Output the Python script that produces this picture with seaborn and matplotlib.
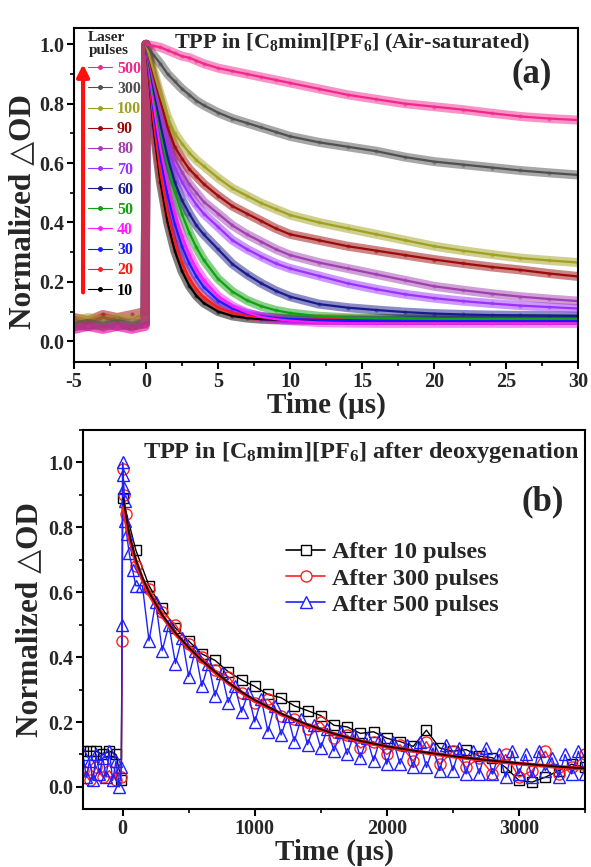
import numpy as np
import pandas as pd
import matplotlib
matplotlib.use('Agg')
import matplotlib.pyplot as plt
import seaborn as sns
from matplotlib.lines import Line2D
from matplotlib.ticker import MultipleLocator

sns.set_theme(style='ticks')
plt.rcParams['font.family'] = ['Liberation Serif', 'DejaVu Sans']
plt.rcParams['font.weight'] = 'bold'
plt.rcParams['axes.labelweight'] = 'bold'
plt.rcParams['axes.unicode_minus'] = False
plt.rcParams['mathtext.fontset'] = 'custom'
plt.rcParams['mathtext.rm'] = 'Liberation Serif:bold'
plt.rcParams['mathtext.it'] = 'Liberation Serif:bold:italic'
plt.rcParams['mathtext.bf'] = 'Liberation Serif:bold'
plt.rcParams['mathtext.default'] = 'rm'

# ---------------- Panel (a) data ----------------
pulses_a = ['10', '20', '30', '40', '50', '60', '70', '80', '90', '100', '300', '500']
colors_a = ['#000000', '#FF1A1A', '#1A1AFF', '#FF1AFF', '#12A012', '#1A1A8C',
            '#9B30FF', '#A040B0', '#9C0A0A', '#A0A020', '#505050', '#F0288C']
t_pre = [-5, -4, -3, -2, -1, -0.05]
t_decay = [0, 0.5, 1, 1.5, 2, 2.5, 3, 3.5, 4, 5, 6, 7, 8, 9, 10, 12, 14, 16, 18, 20, 22, 24, 26, 28, 30]

base_10 = [0.06, 0.05, 0.07, 0.05, 0.06, 0.06]
base_20 = [0.07, 0.06, 0.08, 0.07, 0.06, 0.08]
base_30 = [0.05, 0.06, 0.05, 0.07, 0.05, 0.06]
base_40 = [0.04, 0.05, 0.04, 0.05, 0.04, 0.05]
base_50 = [0.05, 0.06, 0.05, 0.06, 0.05, 0.06]
base_60 = [0.06, 0.05, 0.07, 0.06, 0.05, 0.07]
base_70 = [0.05, 0.06, 0.06, 0.05, 0.06, 0.06]
base_80 = [0.05, 0.05, 0.06, 0.05, 0.06, 0.06]
base_90 = [0.08, 0.07, 0.09, 0.08, 0.09, 0.10]
base_100 = [0.07, 0.08, 0.07, 0.08, 0.07, 0.08]
base_300 = [0.05, 0.06, 0.05, 0.06, 0.05, 0.06]
base_500 = [0.04, 0.05, 0.04, 0.05, 0.04, 0.05]

decay_10 = [1.0, .73, .537, .40, .304, .236, .187, .153, .129, .10, .085, .078, .074, .072, .071, .07, .07, .07, .07, .07, .07, .07, .07, .07, .07]
decay_20 = [1.0, .749, .566, .433, .336, .265, .214, .176, .149, .114, .096, .086, .081, .078, .077, .076, .075, .075, .075, .075, .075, .075, .075, .075, .075]
decay_30 = [1.0, .785, .62, .492, .395, .319, .262, .218, .183, .137, .11, .093, .084, .078, .075, .072, .071, .07, .07, .07, .07, .07, .07, .07, .07]
decay_40 = [1.0, .805, .65, .528, .43, .354, .293, .244, .207, .152, .118, .096, .082, .074, .069, .063, .061, .06, .06, .06, .06, .06, .06, .06, .06]
decay_50 = [1.0, .838, .705, .595, .503, .428, .366, .316, .274, .21, .167, .138, .118, .104, .095, .084, .079, .077, .076, .075, .075, .075, .075, .075, .075]
decay_60 = [1.0, .855, .73, .62, .535, .475, .43, .39, .36, .31, .26, .225, .195, .17, .15, .125, .113, .105, .098, .093, .09, .088, .087, .086, .085]
decay_70 = [1.0, .875, .765, .67, .585, .535, .495, .46, .43, .385, .34, .31, .285, .262, .245, .22, .195, .175, .158, .145, .135, .127, .12, .115, .11]
decay_80 = [1.0, .885, .78, .69, .615, .57, .53, .5, .47, .43, .39, .36, .335, .31, .29, .265, .245, .225, .205, .185, .172, .16, .15, .142, .135]
decay_90 = [1.0, .9, .81, .72, .655, .615, .58, .555, .53, .49, .455, .43, .405, .38, .36, .34, .32, .305, .29, .275, .262, .25, .24, .228, .218]
decay_100 = [1.0, .915, .83, .755, .70, .665, .635, .61, .59, .55, .515, .49, .465, .445, .425, .40, .38, .36, .34, .32, .305, .292, .28, .272, .265]
decay_300 = [1.0, .965, .935, .90, .875, .85, .83, .81, .795, .77, .75, .735, .72, .705, .69, .67, .655, .64, .62, .605, .595, .585, .575, .567, .56]
decay_500 = [1.0, .995, .99, .98, .97, .96, .955, .945, .935, .92, .91, .90, .89, .88, .87, .85, .83, .815, .80, .79, .78, .768, .757, .75, .745]

bases = [base_10, base_20, base_30, base_40, base_50, base_60, base_70, base_80, base_90, base_100, base_300, base_500]
decays = [decay_10, decay_20, decay_30, decay_40, decay_50, decay_60, decay_70, decay_80, decay_90, decay_100, decay_300, decay_500]

# ---------------- Panel (b) data ----------------
labels_b = ['After 10 pulses', 'After 300 pulses', 'After 500 pulses']
colors_b = ['#000000', '#FF2020', '#2020FF']

t_black = [-300, -250, -200, -150, -100, -50, -10, 0] + list(range(100, 3501, 100))
v_black = [0.11, 0.11, 0.11, 0.10, 0.11, 0.10, 0.02,
           0.89, 0.73, 0.62, 0.55, 0.49, 0.45, 0.41, 0.39, 0.355, 0.33, 0.31,
           0.285, 0.275, 0.25, 0.235, 0.22, 0.19, 0.185, 0.165, 0.17, 0.15,
           0.14, 0.125, 0.175, 0.12, 0.11, 0.115, 0.095, 0.09, 0.06, 0.02,
           0.015, 0.03, 0.05, 0.07, 0.06]

t_red = [-300, -250, -200, -150, -100, -50, -10, -3, 0, 10, 25] + list(range(100, 3501, 100))
v_red = [0.05, 0.02, 0.06, 0.03, 0.05, 0.02, 0.03, 0.45,
         0.98, 0.90, 0.84,
         0.68, 0.61, 0.54, 0.50, 0.44, 0.40, 0.36, 0.34, 0.29, 0.26,
         0.27, 0.22, 0.21, 0.18, 0.20, 0.15, 0.16, 0.12, 0.14, 0.10,
         0.13, 0.08, 0.14, 0.07, 0.11, 0.06, 0.09, 0.04, 0.10, 0.03,
         0.05, 0.11, 0.04, 0.06, 0.10]

t_blue = ([-300, -275, -250, -225, -200, -175, -150, -125, -100, -75, -50, -25, -10, -3,
           0, 5, 10, 15, 20, 30, 50, 75, 100] + list(range(150, 3501, 50)))
v_blue = [0.10, 0.03, 0.08, 0.02, 0.10, 0.04, 0.09, 0.03, 0.11, 0.02, 0.08, 0.00, 0.06, 0.50,
          1.00, 0.96, 0.92, 0.88, 0.82, 0.78, 0.72, 0.67, 0.62,
          0.62, 0.45, 0.57, 0.42, 0.50, 0.38, 0.46, 0.34, 0.42, 0.31,
          0.38, 0.28, 0.35, 0.26, 0.31, 0.23, 0.29, 0.20, 0.27, 0.17,
          0.25, 0.16, 0.22, 0.14, 0.21, 0.13, 0.19, 0.12, 0.18, 0.11,
          0.17, 0.10, 0.16, 0.09, 0.15, 0.08, 0.15, 0.07, 0.14, 0.07,
          0.13, 0.06, 0.14, 0.06, 0.12, 0.05, 0.13, 0.05, 0.12, 0.04,
          0.11, 0.04, 0.12, 0.04, 0.10, 0.03, 0.11, 0.04, 0.10, 0.03,
          0.11, 0.05, 0.09, 0.03, 0.10, 0.04, 0.11, 0.04]

t_fit_b = [5, 50, 100, 150, 200, 300, 400, 500, 600, 700, 800, 900, 1000, 1200, 1400,
           1600, 1800, 2000, 2250, 2500, 2750, 3000, 3250, 3500]
fit_black = [0.89, 0.78, 0.70, 0.645, 0.60, 0.53, 0.475, 0.43, 0.39, 0.355, 0.322, 0.293,
             0.268, 0.226, 0.192, 0.164, 0.142, 0.125, 0.109, 0.095, 0.083, 0.073, 0.064, 0.057]
fit_red = [0.86, 0.77, 0.695, 0.64, 0.595, 0.527, 0.472, 0.428, 0.388, 0.353, 0.32, 0.291,
           0.266, 0.224, 0.19, 0.163, 0.141, 0.124, 0.108, 0.094, 0.082, 0.072, 0.063, 0.056]

# ---------------- build tables ----------------
rows_data, rows_fit = [], []
for lab, b, d in zip(pulses_a, bases, decays):
    for t, v in zip(t_pre, b):
        rows_data.append((lab, t, v))
    for t, v in zip(t_decay, d):
        rows_data.append((lab, t, v))
        rows_fit.append((lab, t, v))
df_a = pd.DataFrame(rows_data, columns=['pulses', 't', 'v'])
df_af = pd.DataFrame(rows_fit, columns=['pulses', 't', 'v'])
pal_a = dict(zip(pulses_a, colors_a))

df_b = {lab: pd.DataFrame({'t': t, 'v': v}) for lab, t, v in
        zip(labels_b, [t_black, t_red, t_blue], [v_black, v_red, v_blue])}
df_bf_black = pd.DataFrame({'t': t_fit_b, 'v': fit_black})
df_bf_red = pd.DataFrame({'t': t_fit_b, 'v': fit_red})

# ---------------- figure ----------------
fig = plt.figure(figsize=(5.91, 8.67), dpi=100)
ax1 = fig.add_axes([0.1252, 0.5825, 0.8528, 0.3852])
ax2 = fig.add_axes([0.1404, 0.0669, 0.8494, 0.4371])

TICK_FS = 14.5
LABEL_FS = 21
YLABEL_FS = 22.5

# Panel (a)
sns.lineplot(data=df_a, x='t', y='v', hue='pulses', palette=pal_a, hue_order=pulses_a,
             estimator=None, sort=False, legend=False, lw=6.5, alpha=0.5,
             marker='o', markersize=3, markeredgewidth=0, ax=ax1)
sns.lineplot(data=df_af, x='t', y='v', hue='pulses', palette=pal_a, hue_order=pulses_a,
             estimator=None, sort=False, legend=False, lw=1.6, ax=ax1)
ax1.set_xlim(-5, 30)
ax1.set_ylim(-0.07, 1.055)
ax1.xaxis.set_major_locator(MultipleLocator(5))
ax1.xaxis.set_minor_locator(MultipleLocator(2.5))
ax1.yaxis.set_major_locator(MultipleLocator(0.2))
ax1.yaxis.set_minor_locator(MultipleLocator(0.1))
ax1.yaxis.set_major_formatter(matplotlib.ticker.FormatStrFormatter('%.1f'))
ax1.set_xlabel('Time (µs)', fontsize=LABEL_FS, fontweight='bold', labelpad=0)
ax1.set_ylabel('Normalized △OD', fontsize=YLABEL_FS, fontweight='bold')
ax1.yaxis.set_label_coords(-0.073, 0.45)
ax1.text(0.552, 0.955, 'TPP in [C$_8$mim][PF$_6$] (Air-saturated)', transform=ax1.transAxes,
         ha='center', va='center', fontsize=16, fontweight='bold')
ax1.text(0.909, 0.864, '(a)', transform=ax1.transAxes, ha='center', va='center',
         fontsize=25, fontweight='bold')

handles_a = [Line2D([], [], color=c, lw=0.8, marker='o', markersize=2.5) for c in colors_a[::-1]]
leg_a = ax1.legend(handles_a, pulses_a[::-1], title='Laser\npulses', loc='upper left',
                   bbox_to_anchor=(0.022, 1.0), frameon=False, fontsize=11.5,
                   title_fontsize=11, handlelength=1.5, handletextpad=0.3,
                   labelspacing=0.26, borderpad=0.2, borderaxespad=0,
                   labelcolor=colors_a[::-1], alignment='left')
for txt in leg_a.get_texts():
    txt.set_fontweight('bold')
leg_a.get_title().set_fontweight('bold')
leg_a.get_title().set_linespacing(0.95)
ax1.annotate('', xy=(0.018, 0.9), xytext=(0.018, 0.2), xycoords='axes fraction',
             arrowprops=dict(arrowstyle='-|>', color='#FF1010', lw=3, mutation_scale=18))

# Panel (b)
sns.lineplot(data=df_b['After 10 pulses'], x='t', y='v', color=colors_b[0], estimator=None,
             sort=False, lw=1.0, marker='s', markersize=7, markerfacecolor='none',
             markeredgecolor=colors_b[0], markeredgewidth=1.0, ax=ax2)
sns.lineplot(data=df_b['After 300 pulses'], x='t', y='v', color=colors_b[1], estimator=None,
             sort=False, lw=1.0, marker='o', markersize=8, markerfacecolor='none',
             markeredgecolor=colors_b[1], markeredgewidth=1.0, ax=ax2)
sns.lineplot(data=df_b['After 500 pulses'], x='t', y='v', color=colors_b[2], estimator=None,
             sort=False, lw=1.0, marker='^', markersize=8, markerfacecolor='none',
             markeredgecolor=colors_b[2], markeredgewidth=1.0, ax=ax2)
sns.lineplot(data=df_bf_red, x='t', y='v', color=colors_b[1], estimator=None, sort=False,
             lw=2.8, ax=ax2)
sns.lineplot(data=df_bf_black, x='t', y='v', color='#200000', estimator=None, sort=False,
             lw=1.4, ax=ax2)
ax2.set_xlim(-300, 3500)
ax2.set_ylim(-0.068, 1.1)
ax2.xaxis.set_major_locator(MultipleLocator(1000))
ax2.xaxis.set_minor_locator(MultipleLocator(500))
ax2.yaxis.set_major_locator(MultipleLocator(0.2))
ax2.yaxis.set_minor_locator(MultipleLocator(0.1))
ax2.yaxis.set_major_formatter(matplotlib.ticker.FormatStrFormatter('%.1f'))
ax2.set_xlabel('Time (µs)', fontsize=LABEL_FS, fontweight='bold', labelpad=0)
ax2.set_ylabel('Normalized △OD', fontsize=YLABEL_FS, fontweight='bold')
ax2.yaxis.set_label_coords(-0.077, 0.5)
ax2.text(0.554, 0.942, 'TPP in [C$_8$mim][PF$_6$] after deoxygenation', transform=ax2.transAxes,
         ha='center', va='center', fontsize=17.5, fontweight='bold')
ax2.text(0.916, 0.81, '(b)', transform=ax2.transAxes, ha='center', va='center',
         fontsize=25, fontweight='bold')
handles_b = [Line2D([], [], color=c, lw=1.2, marker=m, markersize=ms, markerfacecolor='white',
                    markeredgecolor=c, markeredgewidth=1.0)
             for c, m, ms in zip(colors_b, ['s', 'o', '^'], [7, 8, 8])]
leg_b = ax2.legend(handles_b, labels_b, loc='center left', bbox_to_anchor=(0.405, 0.608),
                   frameon=False, fontsize=17.5, handlelength=1.6, handletextpad=0.3,
                   labelspacing=0.18, borderpad=0, borderaxespad=0)
for txt in leg_b.get_texts():
    txt.set_fontweight('bold')

for ax in (ax1, ax2):
    for sp in ax.spines.values():
        sp.set_linewidth(1.5)
        sp.set_color('black')
    ax.tick_params(which='major', direction='out', length=5, width=1.5, labelsize=TICK_FS,
                   color='black', pad=2)
    ax.tick_params(which='minor', direction='out', length=3, width=1.2, color='black')
    for lbl in ax.get_xticklabels() + ax.get_yticklabels():
        lbl.set_fontweight('bold')

fig.savefig('out.png', dpi=100)
